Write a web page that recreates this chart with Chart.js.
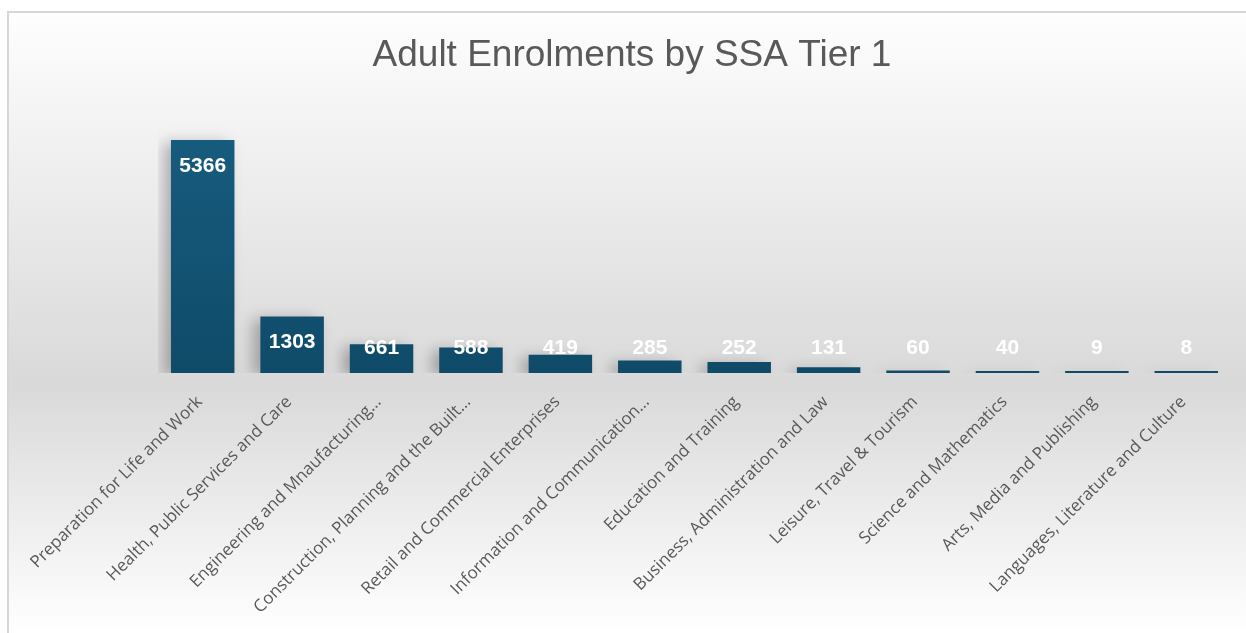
<!DOCTYPE html>
<html>
<head>
<meta charset="utf-8">
<title>Adult Enrolments by SSA Tier 1</title>
<script src="https://cdn.jsdelivr.net/npm/chart.js@4.4.1/dist/chart.umd.min.js"></script>
<style>
  html, body { margin: 0; padding: 0; background: #ffffff; }
  canvas { display: block; }
</style>
</head>
<body>
<canvas id="ssaChart" width="1246" height="633"></canvas>
<script>
// Categories (as shown, incl. truncated labels)
const categories = [
  'Preparation for Life and Work',
  'Health, Public Services and Care',
  'Engineering and Mnaufacturing…',
  'Construction, Planning and the Built…',
  'Retail and Commercial Enterprises',
  'Information and Communication…',
  'Education and Training',
  'Business, Administration and Law',
  'Leisure, Travel & Tourism',
  'Science and Mathematics',
  'Arts, Media and Publishing',
  'Languages, Literature and Culture'
];
const enrolments = [5366, 1303, 661, 588, 419, 285, 252, 131, 60, 40, 9, 8];
const chartTitle = 'Adult Enrolments by SSA Tier 1';

// Background: framed panel with soft vertical gradient
const panelBackground = {
  id: 'panelBackground',
  beforeDraw(chart) {
    const { ctx, width, height } = chart;
    ctx.save();
    ctx.fillStyle = '#ffffff';
    ctx.fillRect(0, 0, width, height);
    const g = ctx.createLinearGradient(0, 12, 0, height);
    g.addColorStop(0, '#fefefe');
    g.addColorStop(0.6, '#d9d9d9');
    g.addColorStop(1, '#ffffff');
    ctx.fillStyle = g;
    ctx.fillRect(8, 12, width - 8, height - 12);
    ctx.strokeStyle = '#d6d6d6';
    ctx.lineWidth = 2;
    ctx.beginPath();
    ctx.moveTo(8, height);
    ctx.lineTo(8, 12);
    ctx.lineTo(width, 12);
    ctx.stroke();
    ctx.restore();
  }
};

// Soft shadow behind bars
const barShadow = {
  id: 'barShadow',
  beforeDatasetsDraw(chart) {
    const ctx = chart.ctx;
    ctx.save();
    ctx.shadowColor = 'rgba(0, 0, 0, 0.28)';
    ctx.shadowBlur = 14;
    ctx.shadowOffsetX = -7;
    ctx.shadowOffsetY = 3;
  },
  afterDatasetsDraw(chart) {
    chart.ctx.restore();
  }
};

// White value labels inside the top of each bar
const valueLabels = {
  id: 'valueLabels',
  afterDatasetsDraw(chart) {
    const { ctx } = chart;
    const meta = chart.getDatasetMeta(0);
    ctx.save();
    ctx.fillStyle = '#ffffff';
    ctx.font = 'bold 21px "Liberation Sans", Arial, sans-serif';
    ctx.textAlign = 'center';
    ctx.textBaseline = 'middle';
    meta.data.forEach((bar, i) => {
      const y = Math.min(bar.y + 26, bar.base - 25);
      ctx.fillText(String(enrolments[i]), bar.x, y);
    });
    ctx.restore();
  }
};

const ctx = document.getElementById('ssaChart').getContext('2d');
new Chart(ctx, {
  type: 'bar',
  data: {
    labels: categories,
    datasets: [{
      label: 'Enrolments',
      data: enrolments,
      backgroundColor: (c) => {
        const area = c.chart.chartArea;
        if (!area) return '#155a7b';
        const g = c.chart.ctx.createLinearGradient(0, area.top, 0, area.bottom);
        g.addColorStop(0, '#185d7f');
        g.addColorStop(1, '#0f4b69');
        return g;
      },
      borderWidth: 0,
      minBarLength: 2,
      categoryPercentage: 1.0,
      barPercentage: 0.71
    }]
  },
  options: {
    responsive: false,
    animation: false,
    layout: { padding: { top: 12, left: 26, right: 8, bottom: 0 } },
    plugins: {
      legend: { display: false },
      tooltip: { enabled: false },
      title: {
        display: true,
        text: chartTitle,
        color: '#595959',
        font: { family: '"Liberation Sans", Arial, sans-serif', size: 37, weight: 'normal' },
        padding: { top: 22, bottom: 34 }
      }
    },
    scales: {
      x: {
        grid: { display: false, drawTicks: false },
        border: { display: false },
        ticks: {
          autoSkip: false,
          minRotation: 45,
          maxRotation: 45,
          padding: 19,
          labelOffset: -3,
          color: '#595959',
          font: { family: '"Open Sans", sans-serif', size: 17 }
        },
        afterFit: (axis) => { axis.height = 260; }
      },
      y: {
        min: 0,
        max: 6000,
        grid: { display: false, drawTicks: false },
        border: { display: false },
        ticks: { display: false },
        afterFit: (axis) => { axis.width = 132; }
      },
      yRight: {
        position: 'right',
        min: 0,
        max: 6000,
        grid: { display: false, drawTicks: false },
        border: { display: false },
        ticks: { display: false },
        afterFit: (axis) => { axis.width = 7; }
      }
    }
  },
  plugins: [panelBackground, barShadow, valueLabels]
});
</script>
</body>
</html>
